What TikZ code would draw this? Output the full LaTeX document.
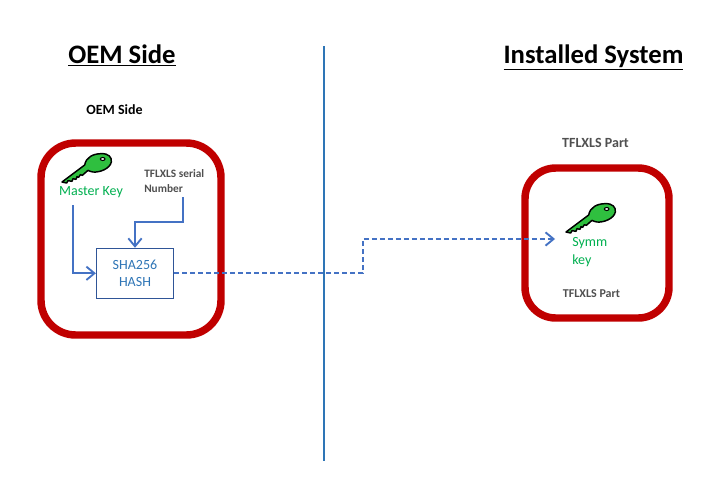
\documentclass[tikz,border=0pt]{standalone}
\usepackage{fontspec}
\setmainfont{Carlito}
\usetikzlibrary{arrows.meta}
\definecolor{frame}{HTML}{C00000}
\definecolor{flow}{HTML}{4472C4}
\definecolor{boxline}{HTML}{2F5597}
\definecolor{hashtext}{HTML}{2E75B6}
\definecolor{divider}{HTML}{2E75B6}
\definecolor{keygreen}{HTML}{00B050}
\definecolor{keyfill}{HTML}{2FBF3F}
\definecolor{note}{HTML}{505050}
\tikzset{
  frameline/.style={draw=frame,line width=5.6pt,rounded corners=26pt},
  flowline/.style={draw=flow,line width=1.5pt,-{Straight Barb[length=6pt,width=10pt,line width=1.4pt]}},
  flowdash/.style={flowline,dashed,dash pattern=on 4pt off 2pt},
  heading/.style={font=\fontsize{20}{24}\selectfont\bfseries,text=black,inner sep=0pt},
  smallbold/.style={font=\fontsize{10.5}{13}\selectfont\bfseries,text=note,inner sep=0pt,align=left},
  greentext/.style={font=\fontsize{10.5}{13}\selectfont,text=keygreen,inner sep=0pt,align=left},
  hashbox/.style={draw=boxline,line width=0.7pt,fill=white,minimum width=58pt,minimum height=37.6pt,inner sep=0pt,
    font=\fontsize{10.5}{13}\selectfont,text=hashtext,align=center},
  keypic/.pic={
    \begin{scope}[scale=1/3]
    \filldraw[fill=keyfill,draw=black,line width=1.1pt,line join=round]
      (-108,60) -- (-40,9) .. controls (-36,-14) and (-15,-25) .. (10,-25)
      .. controls (32,-26) and (42,-14) .. (40,0)
      .. controls (36,20) and (5,32) .. (-15,30)
      .. controls (-22,29) and (-27,27) .. (-30,25)
      -- (-47,40) -- (-53,38) -- (-58,46) -- (-63,44) -- (-66,52) -- (-75,50)
      -- (-78,58) -- (-90,56) -- (-94,63) -- cycle;
    \filldraw[fill=white,draw=black,line width=0.8pt] (14,-9) ellipse (7 and 4.5);
    \end{scope}
  }
}
\begin{document}
\begin{tikzpicture}[x=0.75pt,y=-0.75pt]
\useasboundingbox (0,0) rectangle (728,479);
\fill[white] (0,0) rectangle (728,479);
\node[heading,anchor=base] (h1) at (122,63.5) {\underline{OEM Side}};
\node[heading,anchor=base] (h2) at (593.5,63.5) {\underline{Installed System}};
\coordinate (divtop) at (324,46);
\coordinate (divbot) at (324,461);
\draw[divider,line width=1.1pt] (divtop) -- (divbot);
\path[frameline] (41,143) rectangle (221,335);
\path[frameline,rounded corners=23pt] (525,168) rectangle (669,318);
\node[smallbold,text=black] (lbl1) at (114.5,110) {OEM Side};
\node[smallbold] (lbl2) at (595.5,142.5) {TFLXLS Part};
\node[smallbold,font=\fontsize{9}{11}\selectfont\bfseries] (lbl3) at (591.5,294) {TFLXLS Part};
\pic at (98,162) {keypic};
\pic at (602,212) {keypic};
\node[greentext] (mk) at (91,192) {Master Key};
\node[greentext,anchor=north west] (symm) at (572,237.5) {Symm\\key};
\node[smallbold,anchor=north west,font=\fontsize{8.5}{11.5}\selectfont\bfseries] (serial) at (144,169) {TFLXLS serial\\Number};
\node[hashbox] (hash) at (135,273.3) {SHA256\\HASH};
\coordinate (mkstart) at (73,205);
\coordinate (mkbend) at (73,273.3);
\coordinate (serstart) at (183,197);
\coordinate (serbend1) at (183,222);
\coordinate (serbend2) at (135,222);
\coordinate (dash1) at (363,273.3);
\coordinate (dash2) at (363,239);
\coordinate (dashend) at (555,239);
\draw[flowline] (mkstart) -- (mkbend) -- (hash.west);
\draw[flowline] (serstart) -- (serbend1) -- (serbend2) -- (hash.north);
\draw[flowdash] (hash.east) -- (dash1) -- (dash2) -- (dashend);
\end{tikzpicture}
\end{document}
